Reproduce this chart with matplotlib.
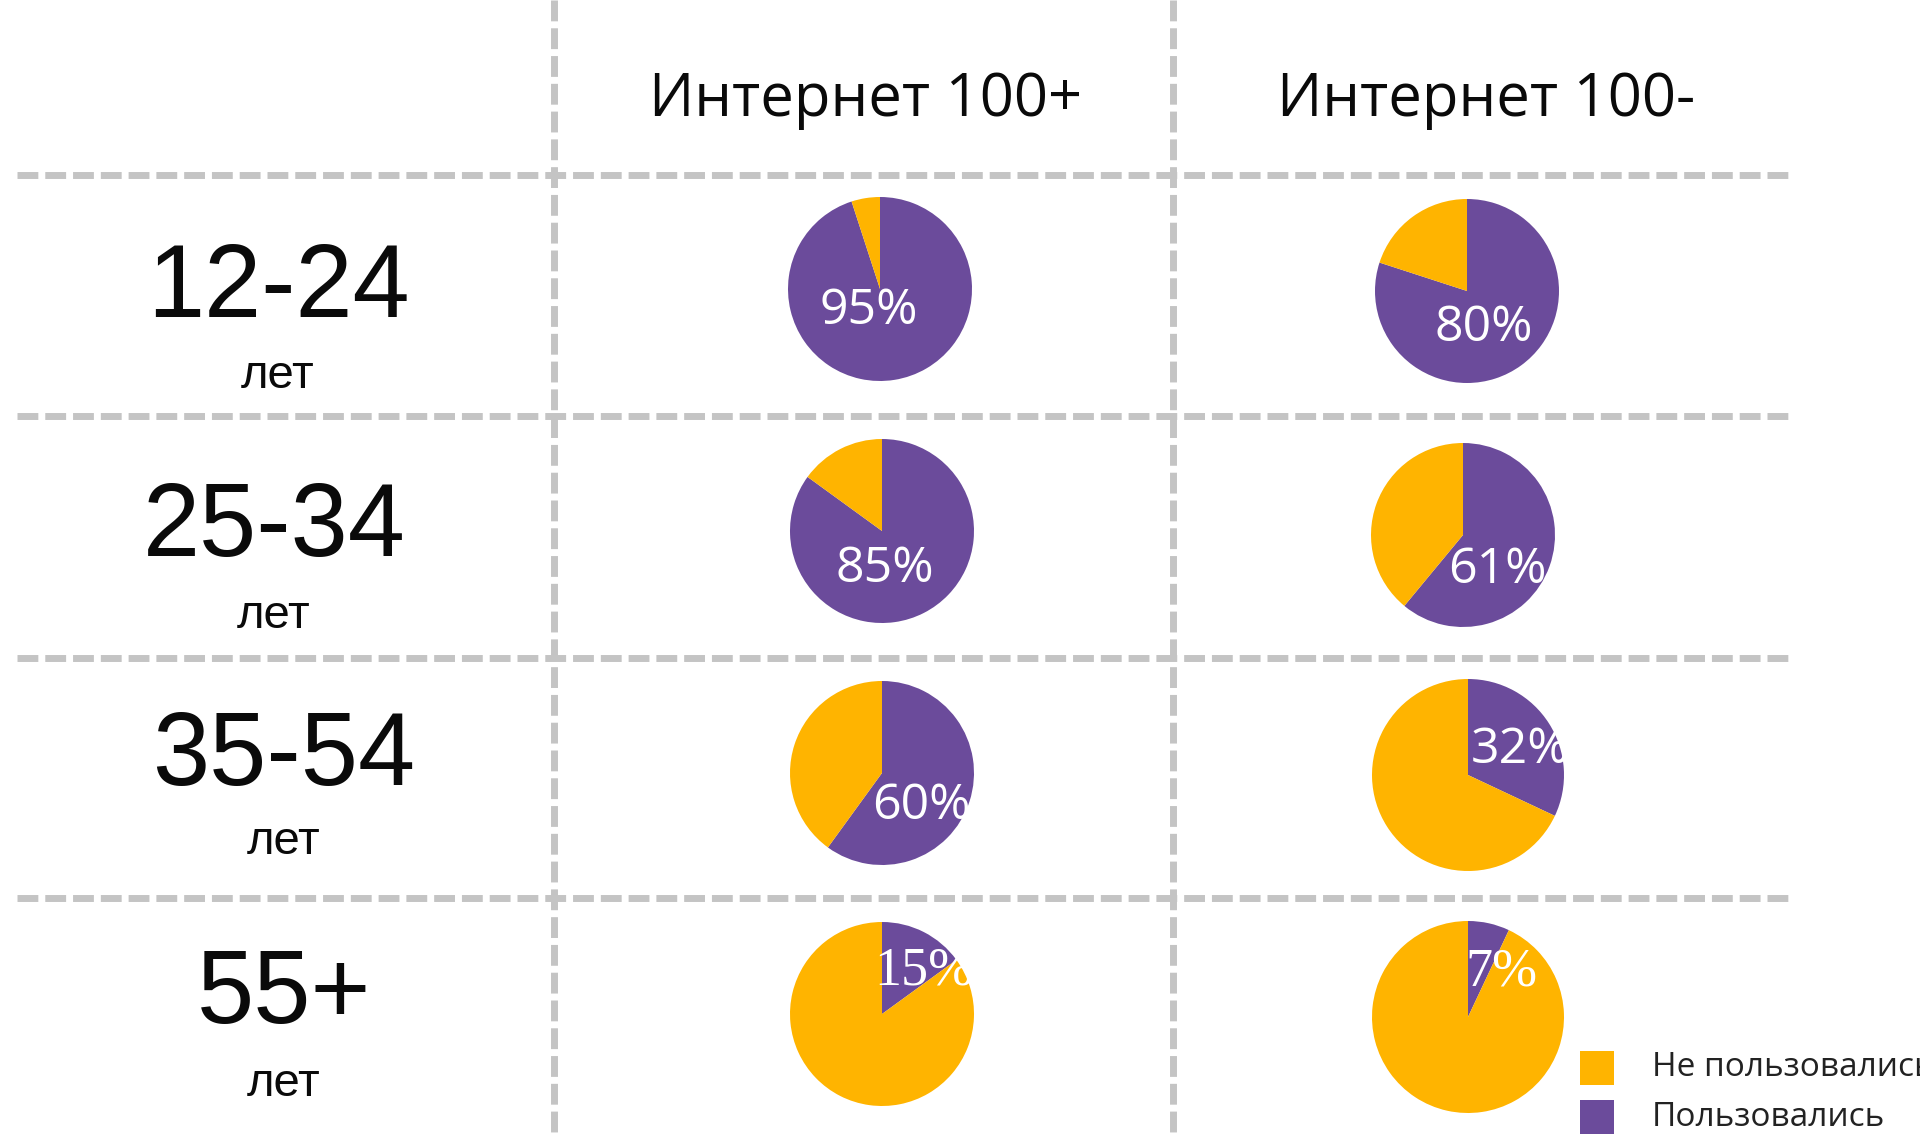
import matplotlib
matplotlib.use("Agg")
import matplotlib.pyplot as plt
from matplotlib.patches import Rectangle

# --- data -------------------------------------------------------------
age_groups = ["12-24", "25-34", "35-54", "55+"]
age_unit = "лет"
plans = ["Интернет 100+", "Интернет 100-"]
used_100_plus = [95, 85, 60, 15]    # % who used, plan "100+"
used_100_minus = [80, 61, 32, 7]    # % who used, plan "100-"
legend_labels = ["Не пользовались", "Пользовались"]

# --- style ------------------------------------------------------------
PURPLE = "#6B4B9B"
YELLOW = "#FFB400"
GRID = "#C4C4C4"
TEXT = "#0A0A0A"

W, H = 1920, 1138
fig = plt.figure(figsize=(W / 100, H / 100), dpi=100)
ax = fig.add_axes([0, 0, 1, 1])
ax.set_xlim(0, W)
ax.set_ylim(0, H)
ax.set_aspect("equal")
ax.axis("off")


def Y(y):
    """Convert a top-down pixel row to data y."""
    return H - y


# --- table grid (dashed) ----------------------------------------------
dash = (0, (3, 1))
for x in (554, 1173):
    ax.plot([x, x], [Y(0), Y(H)], color=GRID, lw=5, ls=dash,
            dash_capstyle="butt", zorder=1)
for y in (175, 416, 658, 898):
    ax.plot([17, 1790], [Y(y), Y(y)], color=GRID, lw=5, ls=dash,
            dash_capstyle="butt", zorder=1)

# --- column headers ---------------------------------------------------
header_x = [866, 1486]
for hx, name in zip(header_x, plans):
    ax.text(hx, Y(100), name, ha="center", va="center",
            fontsize=43, family="Open Sans", color=TEXT)

# --- row headers ------------------------------------------------------
row_label_pos = [(278, 290, 376), (274, 529, 616), (284, 758, 842), (284, 996, 1084)]
for (lx, ly, uy), grp in zip(row_label_pos, age_groups):
    ax.text(lx, Y(ly), grp, ha="center", va="center",
            fontsize=74, family="Liberation Sans", color=TEXT)
    ax.text(lx, Y(uy), age_unit, ha="center", va="center",
            fontsize=34, family="Liberation Sans", color=TEXT)

# --- pies -------------------------------------------------------------
pie_centers = [
    [(880, 289), (1467, 291)],
    [(882, 531), (1463, 535)],
    [(882, 773), (1468, 775)],
    [(882, 1014), (1468, 1017)],
]
pie_radius = [[92, 92], [92, 92], [92, 96], [92, 96]]
label_offset = [
    [(-11, 22), (17, 37)],
    [(3, 38), (34, 35)],
    [(39, 33), (52, -25)],
    [(42, -43), (33, -45)],
]
label_font = [
    ["Open Sans", "Open Sans"],
    ["Open Sans", "Open Sans"],
    ["Open Sans", "Open Sans"],
    ["Liberation Serif", "Liberation Serif"],
]

for r in range(len(age_groups)):
    for c, series in enumerate((used_100_plus, used_100_minus)):
        used = series[r]
        cx, cy = pie_centers[r][c]
        ax.pie([used, 100 - used], colors=[PURPLE, YELLOW], startangle=90,
               counterclock=False, center=(cx, Y(cy)), radius=pie_radius[r][c],
               wedgeprops=dict(linewidth=0), frame=True)
        dx, dy = label_offset[r][c]
        fam = label_font[r][c]
        ax.text(cx + dx, Y(cy + dy), f"{used}%", ha="center", va="center",
                color="white", family=fam,
                fontsize=39 if fam == "Liberation Serif" else 36, zorder=5)

ax.set_xlim(0, W)
ax.set_ylim(0, H)
ax.axis("off")

# --- legend -----------------------------------------------------------
legend_rows = [1068, 1117]
for y, lab, col in zip(legend_rows, legend_labels, (YELLOW, PURPLE)):
    ax.add_patch(Rectangle((1580, Y(y + 17)), 34, 34, color=col, lw=0))
    ax.text(1652, Y(y), lab, ha="left", va="center", fontsize=24,
            family="Open Sans", color="#222222")

fig.savefig("out.png", dpi=100)
